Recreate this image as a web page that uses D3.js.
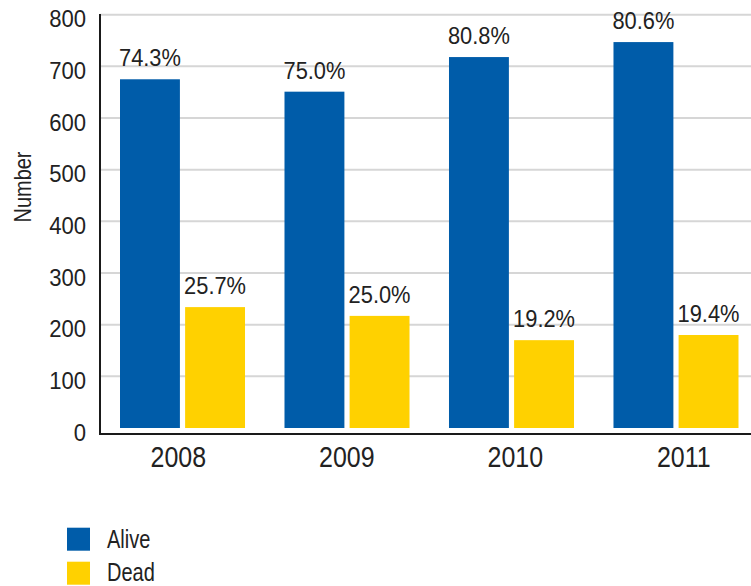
<!DOCTYPE html>
<html>
<head>
<meta charset="utf-8">
<script src="https://cdn.jsdelivr.net/npm/d3@7"></script>
<style>
  html, body { margin: 0; padding: 0; background: #fff; }
  svg { display: block; }
  text { font-family: "Liberation Sans", Arial, sans-serif; fill: #222; }
</style>
</head>
<body>
<svg id="chart" width="751" height="586"></svg>
<script>
const years = ["2008", "2009", "2010", "2011"];
const series = ["Alive", "Dead"];
const aliveValues = [675, 651, 718, 747];
const deadValues = [234, 217, 170, 180];
const alivePctLabels = ["74.3%", "75.0%", "80.8%", "80.6%"];
const deadPctLabels = ["25.7%", "25.0%", "19.2%", "19.4%"];
const yTicks = [0, 100, 200, 300, 400, 500, 600, 700, 800];
const colors = { Alive: "#005CA9", Dead: "#FFD100" };

const svg = d3.select("#chart");
const W = 751;
const plotLeft = 100, plotTop = 14.7, zeroY = 428, axisY = 434;

// condense text horizontally to mimic a condensed face
function condense(sel, factor) {
  sel.each(function () {
    const len = this.getComputedTextLength();
    d3.select(this).attr("textLength", len * factor).attr("lengthAdjust", "spacingAndGlyphs");
  });
}

const y = d3.scaleLinear().domain([0, 800]).range([zeroY, plotTop]);
const x0 = d3.scaleBand().domain(years).range([plotLeft, 758.5]).paddingInner(0.24).paddingOuter(0.1216);
const x1 = d3.scaleBand().domain(series).range([0, x0.bandwidth()]).paddingInner(0.08);
const xLabel = d3.scaleBand().domain(years).range([94, 768]);

// gridlines
svg.append("g").selectAll("line").data(yTicks.filter(t => t > 0)).join("line")
  .attr("x1", plotLeft).attr("x2", W)
  .attr("y1", d => y(d)).attr("y2", d => y(d))
  .attr("stroke", "#d6d6d6").attr("stroke-width", 2);

// y tick labels
const yAxis = d3.axisLeft(y).tickValues(yTicks).tickSize(0).tickPadding(14);
const gy = svg.append("g").attr("transform", `translate(${plotLeft},4.5)`).call(yAxis);
gy.select(".domain").remove();
gy.selectAll("text").style("font-size", "24px").attr("fill", "#222")
  .style("font-family", '"Liberation Sans", Arial, sans-serif');
condense(gy.selectAll("text"), 0.92);

// rows
const rows = years.map((yr, i) => ({
  year: yr,
  vals: [
    { key: "Alive", value: aliveValues[i], label: alivePctLabels[i] },
    { key: "Dead", value: deadValues[i], label: deadPctLabels[i] }
  ]
}));

const groups = svg.append("g").selectAll("g").data(rows).join("g")
  .attr("transform", d => `translate(${x0(d.year)},0)`);

groups.selectAll("rect").data(d => d.vals).join("rect")
  .attr("x", d => x1(d.key))
  .attr("width", x1.bandwidth())
  .attr("y", d => y(d.value))
  .attr("height", d => y(0) - y(d.value))
  .attr("fill", d => colors[d.key]);

const pct = groups.selectAll("text.pct").data(d => d.vals).join("text")
  .attr("class", "pct")
  .attr("x", d => x1(d.key) + x1.bandwidth() / 2)
  .attr("y", d => y(d.value) - 13)
  .attr("text-anchor", "middle")
  .style("font-size", "24px")
  .text(d => d.label);
condense(pct, 0.91);

// axes lines
svg.append("line").attr("x1", plotLeft).attr("x2", plotLeft).attr("y1", 14).attr("y2", axisY + 1)
  .attr("stroke", "#1a1a1a").attr("stroke-width", 2);
svg.append("line").attr("x1", plotLeft - 1).attr("x2", W).attr("y1", axisY).attr("y2", axisY)
  .attr("stroke", "#1a1a1a").attr("stroke-width", 2);

// x axis labels
const xAxis = d3.axisBottom(xLabel).tickSize(0).tickPadding(12);
const gx = svg.append("g").attr("transform", `translate(0,${axisY})`).call(xAxis);
gx.select(".domain").remove();
gx.selectAll("text").style("font-size", "29px").attr("fill", "#222")
  .style("font-family", '"Liberation Sans", Arial, sans-serif');
condense(gx.selectAll("text"), 0.86);

// y axis title
const yt = svg.append("text")
  .attr("transform", "translate(31,187) rotate(-90)")
  .attr("text-anchor", "middle")
  .style("font-size", "24px")
  .text("Number");
condense(yt, 0.83);

// legend
const legend = svg.append("g").selectAll("g").data(series).join("g")
  .attr("transform", (d, i) => `translate(67,${527.7 + i * 34})`);
legend.append("rect").attr("width", 23).attr("height", 23).attr("fill", d => colors[d]);
const lt = legend.append("text").attr("x", 40).attr("y", (d, i) => i === 0 ? 20.5 : 19)
  .style("font-size", "25px").text(d => d);
condense(lt, 0.8);
</script>
</body>
</html>
